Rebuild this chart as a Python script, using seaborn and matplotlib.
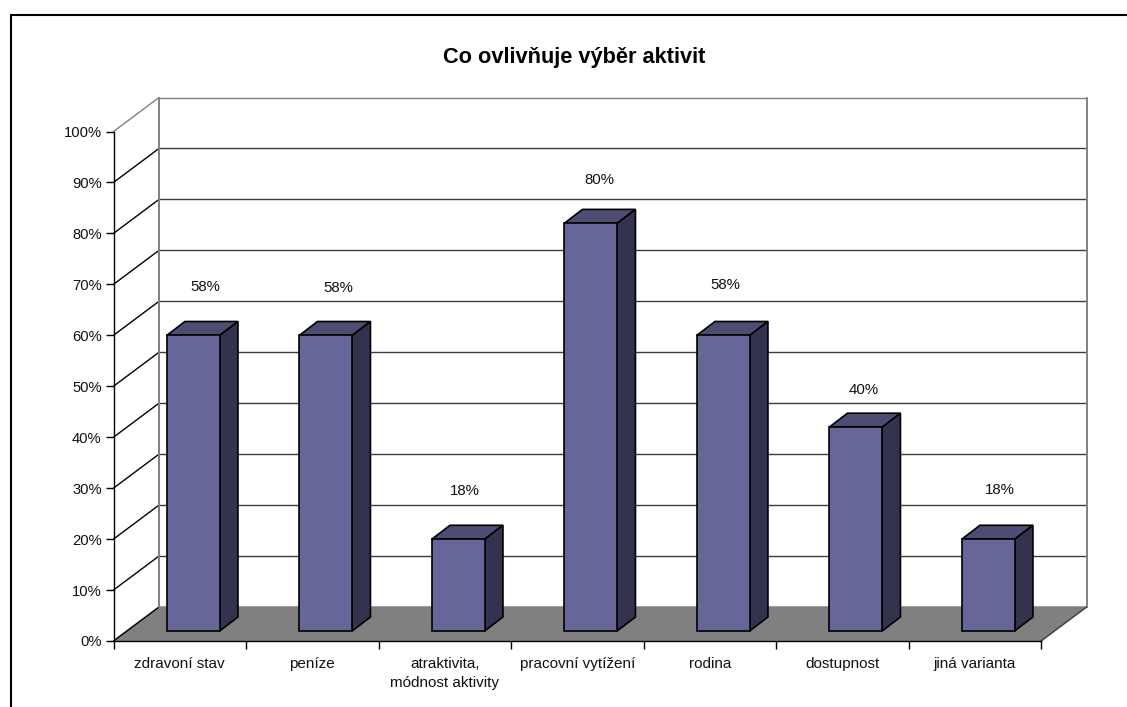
import matplotlib
matplotlib.use("Agg")
import matplotlib.pyplot as plt
from matplotlib.patches import Polygon
from matplotlib.lines import Line2D
import seaborn as sns
import pandas as pd

categories = ["zdravoní stav", "peníze", "atraktivita,\nmódnost aktivity",
              "pracovní vytížení", "rodina", "dostupnost", "jiná varianta"]
values = [58, 58, 18, 80, 58, 40, 18]
y_ticks = list(range(0, 101, 10))
title = "Co ovlivňuje výběr aktivit"

W, H = 1127, 707
X0, X1, Y0, Y100 = 113.5, 1041.0, 641.0, 131.5
DX, DY = 45.5, 34.0       # floor depth, px
BX, BY = 13.4, 10.0       # bar inset into the floor, px
BDX, BDY = 18.3, 14.0     # bar depth, px
label_dx = [12, 13, 7, 9, 2, 8, 12]
label_dy = [48, 47, 48, 43, 50, 37, 49]

FRONT, SIDE, TOP = "#666699", "#333350", "#4d4d73"
GREY = "#808080"

sns.set_theme(style="white")
plt.rcParams["font.family"] = ["Liberation Sans", "DejaVu Sans"]

fig = plt.figure(figsize=(W / 100, H / 100), dpi=100, facecolor="white")

def rect(xl, xr, ytop, ybot):
    return [xl / W, 1 - ybot / H, (xr - xl) / W, (ybot - ytop) / H]

ax = fig.add_axes(rect(X0, X1, Y100, Y0), facecolor="none")
ax.set_xlim(-0.5, 6.5)
ax.set_ylim(0, 100)
px_x = (X1 - X0) / 7
px_y = (Y0 - Y100) / 100
dx, dy = DX / px_x, DY / px_y

# back wall, floor and side wall
ax.add_patch(Polygon([(-0.5, 0), (6.5, 0), (6.5 + dx, dy), (-0.5 + dx, dy)],
                     closed=True, fc=GREY, ec=GREY, lw=1, clip_on=False, zorder=1))
for t in y_ticks:
    c = GREY if t == 100 else "#3c3c3c"
    ax.plot([-0.5 + dx, 6.5 + dx], [t + dy, t + dy], color=GREY if t in (0, 100) else c,
            lw=1.0, clip_on=False, zorder=1.5)
    ax.plot([-0.5, -0.5 + dx], [t, t + dy], color=GREY if t == 100 else "black",
            lw=1.0, clip_on=False, zorder=2)
for xb in (-0.5 + dx, 6.5 + dx):
    ax.plot([xb, xb], [dy, 100 + dy], color=GREY, lw=1.4, clip_on=False, zorder=2)
ax.plot([6.5, 6.5 + dx], [0, dy], color="#404040", lw=1.0, clip_on=False, zorder=2)

# axes
sns.despine(ax=ax, right=True, top=True)
for s in ("left", "bottom"):
    ax.spines[s].set_color("black")
    ax.spines[s].set_linewidth(1.0)
ax.set_yticks(y_ticks, [f"{t}%" for t in y_ticks])
ax.set_xticks(range(len(categories)), categories, linespacing=1.4)
ax.set_xticks([i - 0.5 for i in range(len(categories) + 1)], minor=True)
ax.tick_params(axis="y", length=6, width=1, color="black", left=True, pad=2.5,
               labelsize=10.6, labelcolor="#111111")
ax.tick_params(axis="x", which="major", length=0, pad=11.8, labelsize=11, labelcolor="#111111")
ax.tick_params(axis="x", which="minor", length=6, width=1, color="black", bottom=True)

# bars, in an axes moved into the floor
bx = fig.add_axes(rect(X0 + BX, X1 + BX, Y100 - BY, Y0 - BY), facecolor="none")
df = pd.DataFrame({"cat": categories, "value": values})
sns.barplot(data=df, x="cat", y="value", ax=bx, color=FRONT, saturation=1, width=53 / px_x,
            edgecolor="black", linewidth=1.2, zorder=5)
bx.set_xlim(-0.5, 6.5)
bx.set_ylim(0, 100)
bx.axis("off")
ddx, ddy = BDX / px_x, BDY / px_y
for i, p in enumerate(list(bx.patches)):
    xl, w, h = p.get_x(), p.get_width(), p.get_height()
    xr = xl + w
    p.set_clip_on(False)
    bx.add_patch(Polygon([(xl, h), (xr, h), (xr + ddx, h + ddy), (xl + ddx, h + ddy)], closed=True,
                         fc=TOP, ec="black", lw=1.2, clip_on=False, zorder=4))
    bx.add_patch(Polygon([(xr, 0), (xr + ddx, ddy), (xr + ddx, h + ddy), (xr, h)], closed=True,
                         fc=SIDE, ec="black", lw=1.2, clip_on=False, zorder=4))
    bx.annotate(f"{values[i]}%", (xl + w / 2, h), xytext=(label_dx[i] * 0.72, label_dy[i] * 0.72),
                textcoords="offset points", ha="center", va="center", fontsize=10.8,
                color="#111111", annotation_clip=False, zorder=6)

fig.text(574.5 / W, 1 - 58 / H, title, ha="center", va="center", fontsize=15.7,
         fontweight="bold", color="black")

# outer frame
fig.add_artist(Line2D([11.5 / W, 11.5 / W], [0, 1 - 14.5 / H], color="black", lw=1.5))
fig.add_artist(Line2D([10.8 / W, 1], [1 - 14.5 / H, 1 - 14.5 / H], color="black", lw=1.5))

fig.savefig("out.png", dpi=100)
